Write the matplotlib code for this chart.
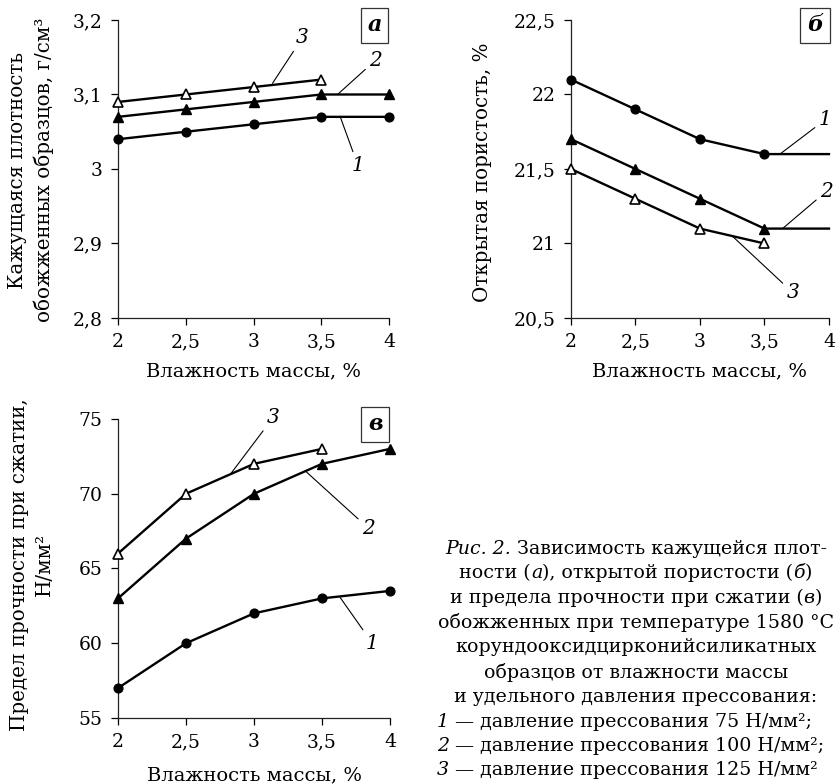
import matplotlib
matplotlib.use("Agg")
import matplotlib.pyplot as plt

plt.rcParams['font.family'] = ['DejaVu Serif']
plt.rcParams['font.size'] = 13

# humidity of the mass, %
x = [2, 2.5, 3, 3.5, 4]
x_ticks = [2, 2.5, 3, 3.5, 4]
x_ticklabels = ['2', '2,5', '3', '3,5', '4']

# (а) apparent density, g/cm3
dens1 = [3.04, 3.05, 3.06, 3.07, 3.07]
dens2 = [3.07, 3.08, 3.09, 3.10, 3.10]
dens3 = [3.09, 3.10, 3.11, 3.12]
dens_ticks = [2.8, 2.9, 3.0, 3.1, 3.2]
dens_ticklabels = ['2,8', '2,9', '3', '3,1', '3,2']

# (б) open porosity, %
por1 = [22.1, 21.9, 21.7, 21.6, 21.6]
por2 = [21.7, 21.5, 21.3, 21.1, 21.1]
por3 = [21.5, 21.3, 21.1, 21.0]
por_ticks = [20.5, 21, 21.5, 22, 22.5]
por_ticklabels = ['20,5', '21', '21,5', '22', '22,5']

# (в) compressive strength, N/mm2
str1 = [57, 60, 62, 63, 63.5]
str2 = [63, 67, 70, 72, 73]
str3 = [66, 70, 72, 73]
str_ticks = [55, 60, 65, 70, 75]
str_ticklabels = ['55', '60', '65', '70', '75']

fig = plt.figure(figsize=(8.37, 7.84), dpi=100)
ax_a = fig.add_axes([0.141, 0.5944, 0.3238, 0.3801])
ax_b = fig.add_axes([0.6822, 0.5944, 0.3082, 0.3801])
ax_c = fig.add_axes([0.141, 0.0842, 0.325, 0.3814])

line_kw = dict(color='black', lw=1.7, clip_on=False, zorder=3)
circ = dict(marker='o', ms=6.3, mfc='black', mec='black')
tri = dict(marker='^', ms=7.8, mfc='black', mec='black')
otri = dict(marker='^', ms=7.8, mfc='white', mec='black', mew=1.2)


def style(ax, ticks, labels, letter, ybox, xpad=8):
    ax.set_xlim(2, 4)
    ax.set_ylim(ticks[0], ticks[-1])
    ax.set_xticks(x_ticks)
    ax.set_xticklabels(x_ticklabels)
    ax.set_yticks(ticks)
    ax.set_yticklabels(labels)
    for s in ['top', 'right']:
        ax.spines[s].set_visible(False)
    for s in ['left', 'bottom']:
        ax.spines[s].set_linewidth(0.9)
        ax.spines[s].set_color('#222222')
    ax.tick_params(length=5, width=0.9, pad=6, labelsize=13.5)
    ax.set_xlabel('Влажность массы, %', fontsize=14, labelpad=xpad)
    ax.text(0.946, ybox, letter, transform=ax.transAxes, ha='center', va='center',
            fontsize=16, fontweight='bold', fontstyle='italic', clip_on=False,
            bbox=dict(boxstyle='square,pad=0.3', fc='white', ec='#333333', lw=0.9))


def mark(ax, label, xy, xytext):
    ax.annotate(label, xy=xy, xytext=xytext, ha='center', va='center',
                fontsize=14.5, fontstyle='italic', annotation_clip=False,
                arrowprops=dict(arrowstyle='-', lw=0.8, color='black',
                                shrinkA=1, shrinkB=0))


# panel a
ax_a.plot(x, dens1, **line_kw, **circ)
ax_a.plot(x, dens2, **line_kw, **tri)
ax_a.plot(x[:4], dens3, **line_kw, **otri)
style(ax_a, dens_ticks, dens_ticklabels, 'а', 0.982)
mark(ax_a, '3', (3.14, 3.115), (3.36, 3.176))
mark(ax_a, '2', (3.62, 3.10), (3.90, 3.146))
mark(ax_a, '1', (3.64, 3.07), (3.77, 3.005))

# panel b
ax_b.plot(x, por1, markevery=[0, 1, 2, 3], **line_kw, **circ)
ax_b.plot(x, por2, markevery=[0, 1, 2, 3], **line_kw, **tri)
ax_b.plot(x[:4], por3, **line_kw, **otri)
style(ax_b, por_ticks, por_ticklabels, 'б', 0.982)
mark(ax_b, '1', (3.62, 21.60), (3.97, 21.83))
mark(ax_b, '2', (3.64, 21.10), (3.98, 21.35))
mark(ax_b, '3', (3.25, 21.05), (3.72, 20.67))

# panel c
ax_c.plot(x, str1, **line_kw, **circ)
ax_c.plot(x, str2, **line_kw, **tri)
ax_c.plot(x[:4], str3, **line_kw, **otri)
style(ax_c, str_ticks, str_ticklabels, 'в', 0.982, xpad=11)
mark(ax_c, '3', (2.83, 71.35), (3.14, 75.09))
mark(ax_c, '2', (3.38, 71.5), (3.84, 67.7))
mark(ax_c, '1', (3.63, 63.1), (3.87, 60.0))

# y labels
fig.text(31 / 837, 1 - 170 / 784, 'Кажущаяся плотность\nобожженных образцов, г/см³',
         rotation=90, ha='center', va='center', multialignment='center',
         fontsize=14.3, linespacing=1.35)
fig.text(483 / 837, 1 - 172 / 784, 'Открытая пористость, %',
         rotation=90, ha='center', va='center', fontsize=14.3)
fig.text(32 / 837, 1 - 565 / 784, 'Предел прочности при сжатии,\nН/мм²',
         rotation=90, ha='center', va='center', multialignment='center',
         fontsize=14.3, linespacing=1.35)

# caption
cap_size = 13.7
renderer = fig.canvas.get_renderer()


def rich_line(y_px, parts, x_px, center=True):
    texts = []
    for s, italic in parts:
        t = fig.text(0, 1 - y_px / 784, s, fontsize=cap_size, va='center',
                     fontstyle='italic' if italic else 'normal')
        texts.append(t)
    widths = [t.get_window_extent(renderer).width for t in texts]
    start = x_px - sum(widths) / 2 if center else x_px
    for t, w in zip(texts, widths):
        t.set_x(start / 837)
        start += w


cx = 636
rich_line(549, [('Рис. 2.', True), (' Зависимость кажущейся плот-', False)], cx)
rich_line(573, [('ности (', False), ('а', True), ('), открытой пористости (', False),
                ('б', True), (')', False)], cx)
rich_line(598, [('и предела прочности при сжатии (', False), ('в', True), (')', False)], cx)
rich_line(623, [('обожженных при температуре 1580 °C', False)], cx)
rich_line(647, [('корундооксидцирконийсиликатных', False)], cx)
rich_line(672, [('образцов от влажности массы', False)], cx)
rich_line(697, [('и удельного давления прессования:', False)], cx)
rich_line(722, [('1', True), (' — давление прессования 75 Н/мм²;', False)], 437, center=False)
rich_line(746, [('2', True), (' — давление прессования 100 Н/мм²;', False)], 437, center=False)
rich_line(770, [('3', True), (' — давление прессования 125 Н/мм²', False)], 437, center=False)

fig.savefig('out.png', dpi=100)
